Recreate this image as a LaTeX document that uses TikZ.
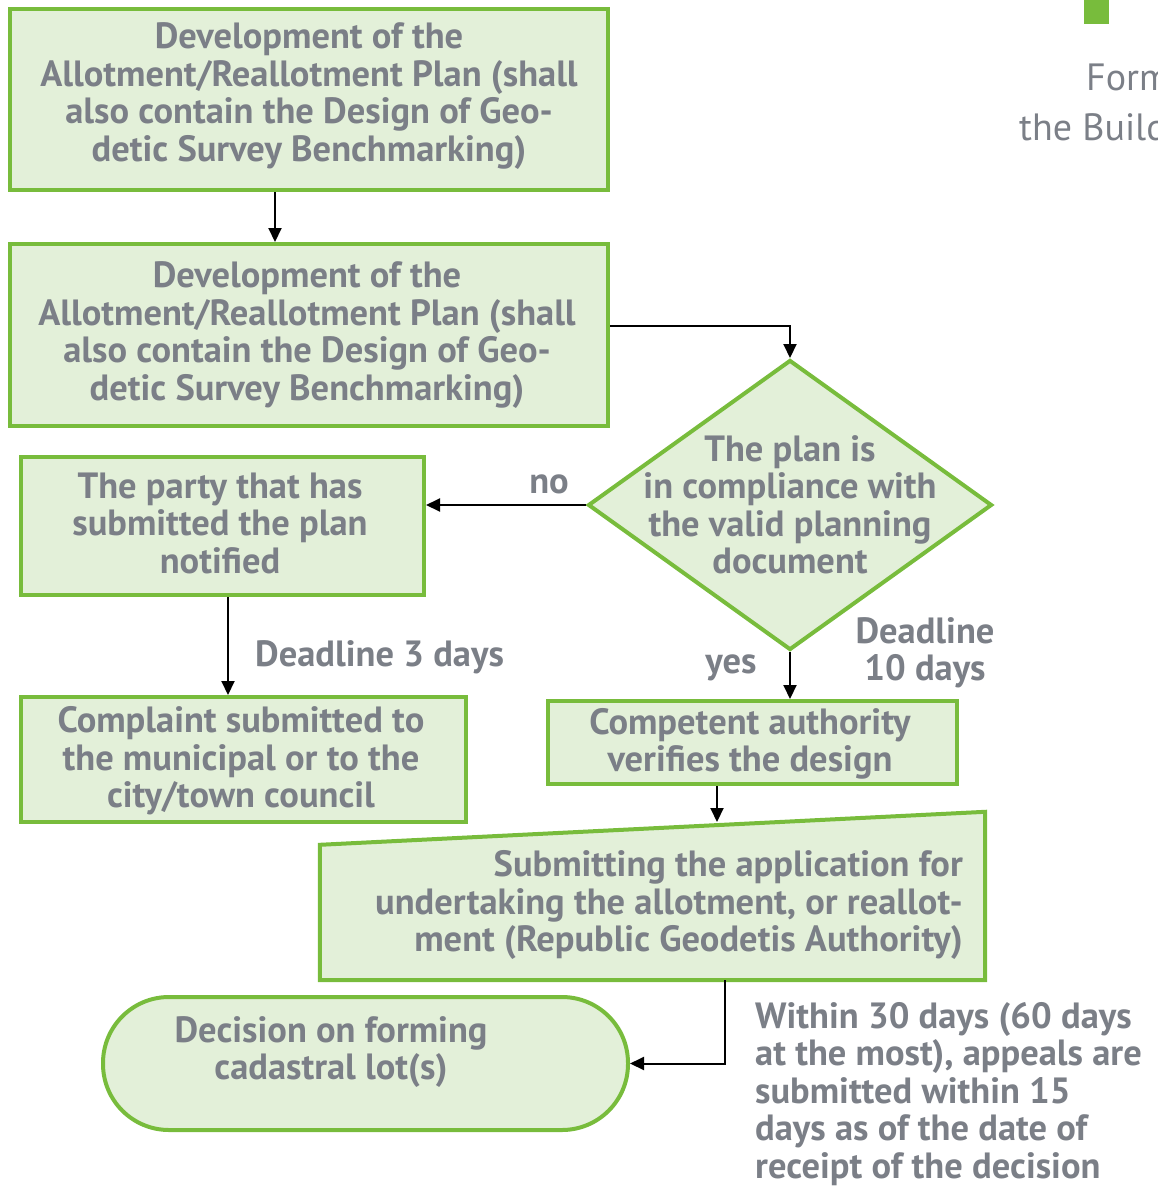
\documentclass[tikz,border=0pt]{standalone}
\usepackage{fontspec}
\setmainfont{PT Sans}
\usetikzlibrary{shapes.geometric,arrows.meta,calc}
\definecolor{leaf}{HTML}{78BC3C}
\definecolor{pale}{HTML}{E3F0D9}
\definecolor{ink}{HTML}{7B7F87}
\newcommand{\flowfont}{\fontsize{36.5}{37.5}\selectfont\bfseries}
\begin{document}
\begin{tikzpicture}[x=1pt,y=-1pt,
  stepbox/.style={draw=leaf,fill=pale,line width=4pt,rectangle,inner sep=0pt},
  words/.style={font=\flowfont,text=ink,align=center,inner sep=0pt},
  arr/.style={draw=black,line width=2pt,-{Triangle[length=14pt,width=13pt]}}]
\useasboundingbox (0,0) rectangle (1158,1186);
\clip (0,0) rectangle (1158,1186);

% header fragment
\fill[leaf] (1084,0) rectangle (1109,24);
\node[anchor=base west,inner sep=0pt,text=ink,font=\fontsize{38}{44}\selectfont] (hdA) at (1086,90) {Form};
\node[anchor=base west,inner sep=0pt,text=ink,font=\fontsize{38}{44}\selectfont] (hdB) at (1019,140) {the Build};

% boxes
\node[stepbox,minimum width=598,minimum height=181] (dev1) at (309,99.5) {};
\node[words] (dev1t) at (309,96) {Development of the\\Allotment/Reallotment Plan (shall\\also contain the Design of Geo-\\detic Survey Benchmarking)};

\node[stepbox,minimum width=598,minimum height=182] (dev2) at (309,335) {};
\node[words] (dev2t) at (307,335) {Development of the\\Allotment/Reallotment Plan (shall\\also contain the Design of Geo-\\detic Survey Benchmarking)};

\node[diamond,draw=leaf,fill=pale,line width=4pt,inner sep=0pt,minimum width=404,minimum height=290] (dia) at (790,505) {};
\node[words] (diat) at (790,505) {The plan is\\in compliance with\\the valid planning\\document};

\node[stepbox,minimum width=403,minimum height=138] (party) at (222.5,526) {};
\node[words] (partyt) at (220,523) {The party that has\\submitted the plan\\notified};

\node[stepbox,minimum width=445,minimum height=125] (compl) at (243.5,759.5) {};
\node[words] (complt) at (241,761) {Complaint submitted to\\the municipal or to the\\city/town council};

\node[stepbox,minimum width=409,minimum height=83] (verif) at (752.5,742.5) {};
\node[words] (verift) at (750,744) {Competent authority\\verifies the design};

% manual input shape
\node[rectangle,inner sep=0pt,minimum width=665,minimum height=168] (apin) at (652.5,896) {};
\draw[draw=leaf,fill=pale,line width=4pt,line join=miter]
  ($(apin.north west)+(0,33)$) -- (apin.north east) -- (apin.south east) -- (apin.south west) -- cycle;
\node[words,align=right,anchor=east] (apint) at (963,905) {Submitting the application for\\undertaking the allotment, or reallot-\\ment (Republic Geodetis Authority)};
\coordinate (slope) at (717,822);

% terminal
\node[stepbox,rounded corners=66pt,minimum width=525,minimum height=133] (dec) at (365.5,1063.5) {};
\node[words] (dect) at (331,1052) {Decision on forming\\cadastral lot(s)};

% connectors
\draw[arr] ([xshift=-34pt]dev1.south) -- ([xshift=-34pt]dev2.north);
\draw[arr] ([yshift=9pt]dev2.east) -| (dia.north);
\draw[arr] (dia.west) -- (dia.west -| party.east);
\draw[arr] ([xshift=5.5pt]party.south) -- ([xshift=5.5pt]party.south |- compl.north);
\draw[arr] (dia.south) -- (dia.south |- verif.north);
\draw[arr] (verif.south -| slope) -- (slope);
\draw[arr] ([xshift=72.5pt]apin.south) |- (dec.east);

% labels
\node[words] (lno) at (549,484) {no};
\node[words,anchor=west] (l3) at (255,657) {Deadline 3 days};
\node[words] (lyes) at (731,668) {yes};
\node[words] (l10) at (925,653) {Deadline\\10 days};
\node[words,align=left,anchor=north west] (l30) at (755,1002) {Within 30 days (60 days\\at the most), appeals are\\submitted within 15\\days as of the date of\\receipt of the decision};
\end{tikzpicture}
\end{document}
